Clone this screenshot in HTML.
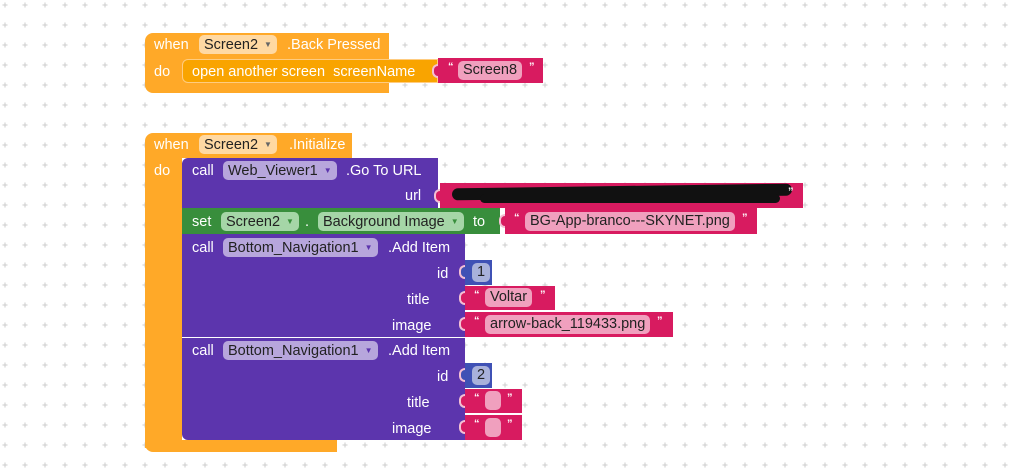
<!DOCTYPE html>
<html><head><meta charset="utf-8"><style>
body{margin:0;width:1011px;height:475px;overflow:hidden;background:#fff;font-family:"Liberation Sans",Arial,sans-serif;position:relative}
.b{position:absolute}
.t{position:absolute;color:#fff;font-size:14.5px;line-height:16px;white-space:nowrap}
.f{position:absolute;font-size:14.5px;line-height:19px;height:19px;border-radius:5px;color:#222;padding:0 5px;white-space:nowrap;box-sizing:border-box}
.o{background:#FFA928}
.p{background:#5C35AD}
.g{background:#388E3C}
.k{background:#D81B60}
.u{background:#3F51B5}
.fo{background:#FFD9A3}
.fp{background:#B7A6DC}
.fg{background:#A5D6A7}
.fk{background:#F0A0BE}
.fu{background:#A9B1DB}
.dd{font-size:8px;color:#666;margin-left:6px;vertical-align:2px}
.q{position:absolute;color:#fff;font-size:11px;font-weight:bold}
.n{position:absolute;width:6px;height:14px;border:2px solid #f4c0d4;border-right:none;border-radius:6px 0 0 6px;box-sizing:border-box}
</style></head><body>
<svg class="b" style="left:0;top:0" width="1011" height="475">
<defs><pattern id="gp" x="0" y="0" width="20" height="20" patternUnits="userSpaceOnUse">
<path d="M5 2.5V7.5M2.5 5H7.5" stroke="#ccc" stroke-width="1"/></pattern></defs>
<rect width="1011" height="475" fill="url(#gp)"/>
</svg>

<!-- Block 1 -->
<div class="b o" style="left:145px;top:33px;width:244px;height:60px;border-radius:8px 0 0 8px"></div>
<div class="b" style="left:182px;top:59px;width:256px;height:24px;background:#F9A400;border:1px solid #FFCC80;border-radius:6px 0 0 6px;box-sizing:border-box"></div>
<div class="t" style="left:154px;top:37px">when</div>
<div class="f fo" style="left:199px;top:35px">Screen2<span class="dd">▼</span></div>
<div class="t" style="left:287px;top:37px">.Back Pressed</div>
<div class="t" style="left:154px;top:64px">do</div>
<div class="t" style="left:192px;top:64px">open another screen&nbsp; screenName</div>
<div class="n" style="left:432px;top:64px;background:#D81B60"></div>
<div class="b k" style="left:438px;top:58px;width:105px;height:25px"></div>
<div class="q" style="left:448px;top:61px">“</div>
<div class="f fk" style="left:458px;top:61px">Screen8</div>
<div class="q" style="left:529px;top:61px">”</div>

<!-- Block 2 -->
<div class="b o" style="left:145px;top:133px;width:207px;height:25px;border-radius:8px 0 0 0"></div>
<div class="b o" style="left:145px;top:158px;width:37px;height:290px"></div>
<div class="b o" style="left:145px;top:440px;width:192px;height:12px;border-radius:0 0 0 8px"></div>
<div class="t" style="left:154px;top:137px">when</div>
<div class="f fo" style="left:199px;top:135px">Screen2<span class="dd">▼</span></div>
<div class="t" style="left:289px;top:137px">.Initialize</div>
<div class="t" style="left:154px;top:163px">do</div>

<!-- web viewer -->
<div class="b p" style="left:182px;top:158px;width:256px;height:50px;border-radius:6px 0 0 0"></div>
<div class="t" style="left:192px;top:163px">call</div>
<div class="f fp" style="left:223px;top:161px">Web_Viewer1<span class="dd" style="color:#5C35AD">▼</span></div>
<div class="t" style="left:346px;top:163px">.Go To URL</div>
<div class="t" style="left:405px;top:188px">url</div>
<div class="n" style="left:434px;top:189px;background:#D81B60"></div>
<div class="b k" style="left:440px;top:183px;width:363px;height:25px"></div>
<div class="b" style="left:452px;top:186px;width:340px;height:12px;background:#111;border-radius:6px;transform:rotate(-0.8deg)"></div>
<div class="b" style="left:480px;top:194px;width:300px;height:9px;background:#111;border-radius:5px"></div>
<div class="q" style="left:788px;top:186px">”</div>

<!-- set -->
<div class="b g" style="left:182px;top:208px;width:318px;height:26px"></div>
<div class="t" style="left:192px;top:214px">set</div>
<div class="f fg" style="left:221px;top:212px">Screen2<span class="dd" style="color:#388E3C">▼</span></div>
<div class="t" style="left:305px;top:214px">.</div>
<div class="f fg" style="left:318px;top:212px">Background Image<span class="dd" style="color:#388E3C">▼</span></div>
<div class="t" style="left:473px;top:214px">to</div>
<div class="n" style="left:499px;top:214px;background:#D81B60"></div>
<div class="b k" style="left:505px;top:208px;width:252px;height:26px"></div>
<div class="q" style="left:514px;top:212px">“</div>
<div class="f fk" style="left:525px;top:212px">BG-App-branco---SKYNET.png</div>
<div class="q" style="left:742px;top:212px">”</div>

<!-- bottom nav 1 -->
<div class="b p" style="left:182px;top:234px;width:283px;height:103px"></div>
<div class="t" style="left:192px;top:240px">call</div>
<div class="f fp" style="left:223px;top:238px">Bottom_Navigation1<span class="dd" style="color:#5C35AD">▼</span></div>
<div class="t" style="left:388px;top:240px">.Add Item</div>
<div class="t" style="left:437px;top:266px">id</div>
<div class="t" style="left:407px;top:292px">title</div>
<div class="t" style="left:392px;top:318px">image</div>
<div class="n" style="left:459px;top:265px;background:#3F51B5"></div>
<div class="b u" style="left:465px;top:260px;width:27px;height:25px"></div>
<div class="f fu" style="left:472px;top:263px;padding:0 5px">1</div>
<div class="n" style="left:459px;top:291px;background:#D81B60"></div>
<div class="b k" style="left:465px;top:286px;width:90px;height:24px"></div>
<div class="q" style="left:474px;top:289px">“</div>
<div class="f fk" style="left:485px;top:288px">Voltar</div>
<div class="q" style="left:540px;top:289px">”</div>
<div class="n" style="left:459px;top:317px;background:#D81B60"></div>
<div class="b k" style="left:465px;top:312px;width:208px;height:25px"></div>
<div class="q" style="left:474px;top:315px">“</div>
<div class="f fk" style="left:485px;top:315px">arrow-back_119433.png</div>
<div class="q" style="left:657px;top:315px">”</div>
<div class="b" style="left:182px;top:337px;width:283px;height:1px;background:#fff;opacity:.7"></div>

<!-- bottom nav 2 -->
<div class="b p" style="left:182px;top:338px;width:283px;height:102px;border-radius:0 0 0 6px"></div>
<div class="t" style="left:192px;top:343px">call</div>
<div class="f fp" style="left:223px;top:341px">Bottom_Navigation1<span class="dd" style="color:#5C35AD">▼</span></div>
<div class="t" style="left:388px;top:343px">.Add Item</div>
<div class="t" style="left:437px;top:369px">id</div>
<div class="t" style="left:407px;top:395px">title</div>
<div class="t" style="left:392px;top:421px">image</div>
<div class="n" style="left:459px;top:368px;background:#3F51B5"></div>
<div class="b u" style="left:465px;top:363px;width:27px;height:25px"></div>
<div class="f fu" style="left:472px;top:366px;padding:0 5px">2</div>
<div class="n" style="left:459px;top:394px;background:#D81B60"></div>
<div class="b k" style="left:465px;top:389px;width:57px;height:24px"></div>
<div class="q" style="left:474px;top:392px">“</div>
<div class="f fk" style="left:485px;top:391px;width:16px;padding:0"></div>
<div class="q" style="left:507px;top:392px">”</div>
<div class="n" style="left:459px;top:420px;background:#D81B60"></div>
<div class="b k" style="left:465px;top:415px;width:57px;height:25px"></div>
<div class="q" style="left:474px;top:418px">“</div>
<div class="f fk" style="left:485px;top:418px;width:16px;padding:0"></div>
<div class="q" style="left:507px;top:418px">”</div>
</body></html>
